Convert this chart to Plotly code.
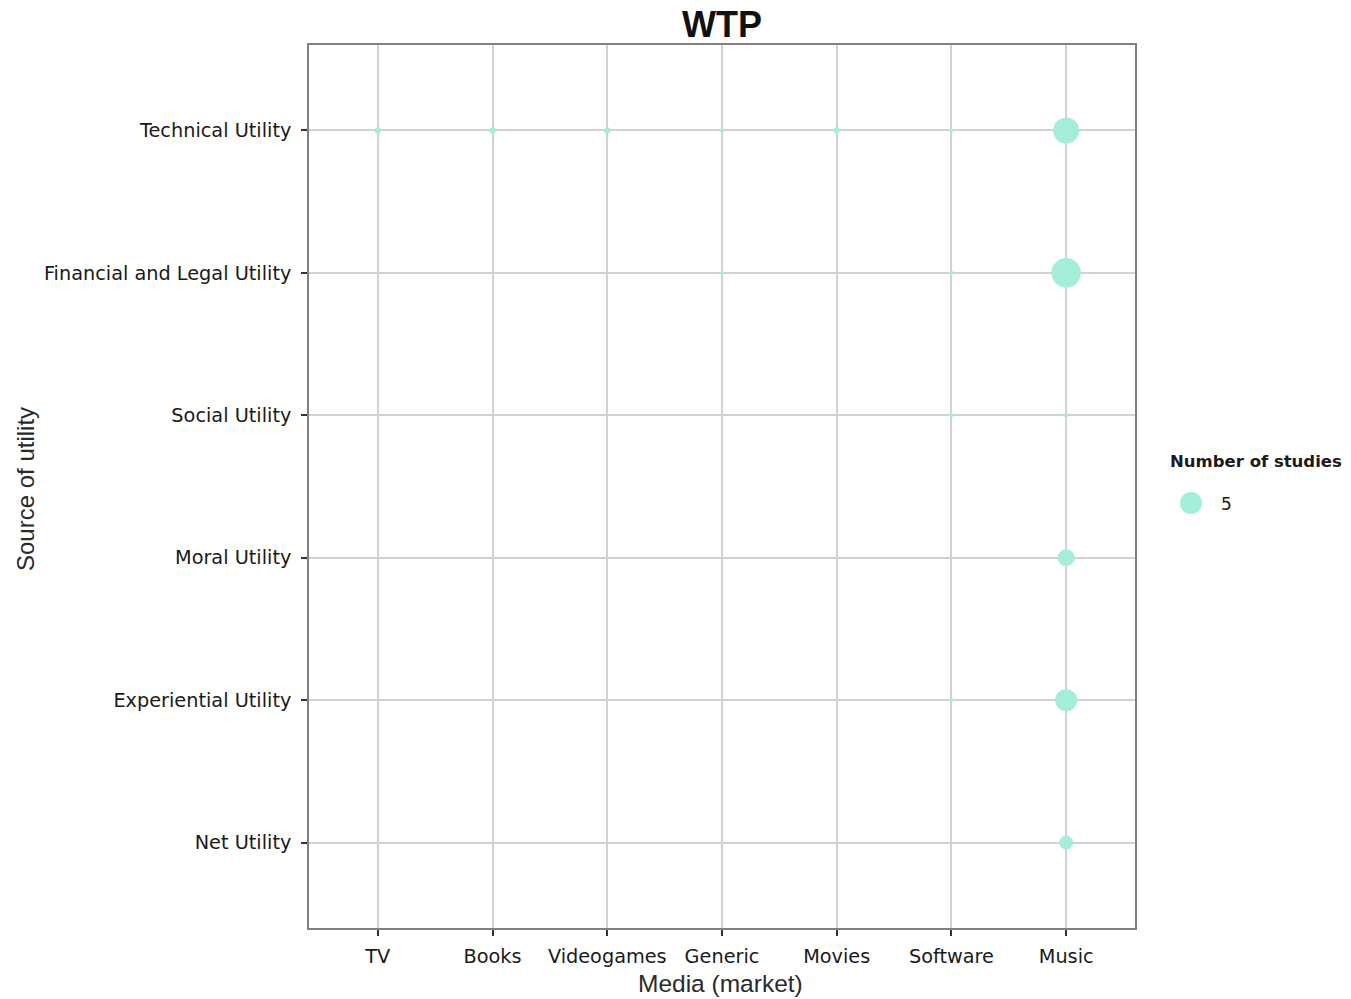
import plotly.graph_objects as go

# ---- data ----
media = ["TV", "Books", "Videogames", "Generic", "Movies", "Software", "Music"]
utilities = ["Net Utility", "Experiential Utility", "Moral Utility",
             "Social Utility", "Financial and Legal Utility", "Technical Utility"]

pt_media = ["TV", "Books", "Videogames", "Generic", "Movies", "Software", "Music",
            "Generic", "Software", "Music",
            "Software", "Music",
            "Music",
            "Software", "Music",
            "Music"]
pt_utility = ["Technical Utility"] * 7 + \
             ["Financial and Legal Utility"] * 3 + \
             ["Social Utility"] * 2 + \
             ["Moral Utility"] + \
             ["Experiential Utility"] * 2 + \
             ["Net Utility"]
n_studies = [0.4, 0.4, 0.4, 0.2, 0.4, 0.17, 7,
             0.17, 0.17, 9,
             0.17, 0.2,
             3,
             0.17, 5,
             2]

legend_values = [5]
legend_title = "Number of studies"

COLOR = "#a4edd9"
SIZEREF = 4 * 5 / (2 * 22 ** 2)  # value 5 -> ~22 px diameter

fig = go.Figure()
fig.add_trace(go.Scatter(
    x=pt_media, y=pt_utility, mode="markers",
    marker=dict(size=n_studies, sizemode="area", sizeref=SIZEREF,
                color=COLOR, opacity=1, line=dict(width=0)),
    showlegend=False, cliponaxis=False, hoverinfo="x+y+text",
    text=[str(v) for v in n_studies],
))

# legend key drawn as a real marker on a small helper axis
fig.add_trace(go.Scatter(
    x=[0] * len(legend_values), y=[0] * len(legend_values), mode="markers",
    marker=dict(size=legend_values, sizemode="area", sizeref=SIZEREF,
                color=COLOR, opacity=1, line=dict(width=0)),
    xaxis="x2", yaxis="y2", showlegend=False, cliponaxis=False, hoverinfo="skip",
))

W, H = 1351, 999
ML, MR, MT = 309, 5, 45
MB = H - 928
PW = W - ML - MR
PH = H - MT - MB
plot_right = 1135
xdom_end = (plot_right - ML) / PW


def px_x(p):
    return (p - ML) / PW


def px_y(p):
    return (H - MB - p) / PH


tickfont = dict(family="DejaVu Sans", size=19.3, color="#1a1a1a")

axis_common = dict(
    showgrid=True, gridcolor="#d2d2d2", gridwidth=1.5,
    showline=True, linecolor="#808080", linewidth=1.5, mirror=True,
    ticks="outside", ticklen=6, tickwidth=1.8, tickcolor="#333333",
    tickfont=tickfont, zeroline=False, fixedrange=True,
)

fig.update_layout(
    width=W, height=H,
    margin=dict(l=ML, r=MR, t=MT, b=MB),
    paper_bgcolor="white", plot_bgcolor="white",
    showlegend=False,
    xaxis=dict(
        domain=[0, xdom_end],
        type="category", categoryorder="array", categoryarray=media,
        range=[-0.6, len(media) - 1 + 0.6],
        ticklabelstandoff=4, **axis_common,
    ),
    yaxis=dict(
        type="category", categoryorder="array", categoryarray=utilities,
        range=[-0.6, len(utilities) - 1 + 0.6],
        ticklabelstandoff=6, **axis_common,
    ),
    xaxis2=dict(domain=[px_x(1191) - 0.01, px_x(1191) + 0.01], range=[-1, 1],
                visible=False, anchor="y2", fixedrange=True),
    yaxis2=dict(domain=[px_y(503) - 0.01, px_y(503) + 0.01], range=[-1, 1],
                visible=False, anchor="x2", fixedrange=True),
    title=dict(text="<b>WTP</b>", x=xdom_end / 2, xref="paper", xanchor="center",
               y=1 - 24 / H, yref="container", yanchor="middle",
               font=dict(family="Liberation Sans", size=36, color="#111111")),
    annotations=[
        dict(text="Media (market)", xref="paper", yref="paper",
             x=px_x(720), y=px_y(983), xanchor="center", yanchor="middle",
             showarrow=False,
             font=dict(family="Liberation Sans", size=24.5, color="#2a2a2a")),
        dict(text="Source of utility", xref="paper", yref="paper",
             x=px_x(25), y=px_y(489), xanchor="center", yanchor="middle",
             textangle=-90, showarrow=False,
             font=dict(family="Liberation Sans", size=24, color="#2a2a2a")),
        dict(text="<b>" + legend_title + "</b>", xref="paper", yref="paper",
             x=px_x(1168), y=px_y(461), xanchor="left", yanchor="middle",
             showarrow=False,
             font=dict(family="DejaVu Sans", size=16.5, color="#1a1a1a")),
        dict(text=str(legend_values[0]), xref="paper", yref="paper",
             x=px_x(1219), y=px_y(504), xanchor="left", yanchor="middle",
             showarrow=False,
             font=dict(family="DejaVu Sans", size=17, color="#1a1a1a")),
    ],
)

fig.write_html("out.html",
               config={"displayModeBar": False},
               post_script="document.body.style.margin='0';"
                           "document.body.style.overflow='hidden';")
